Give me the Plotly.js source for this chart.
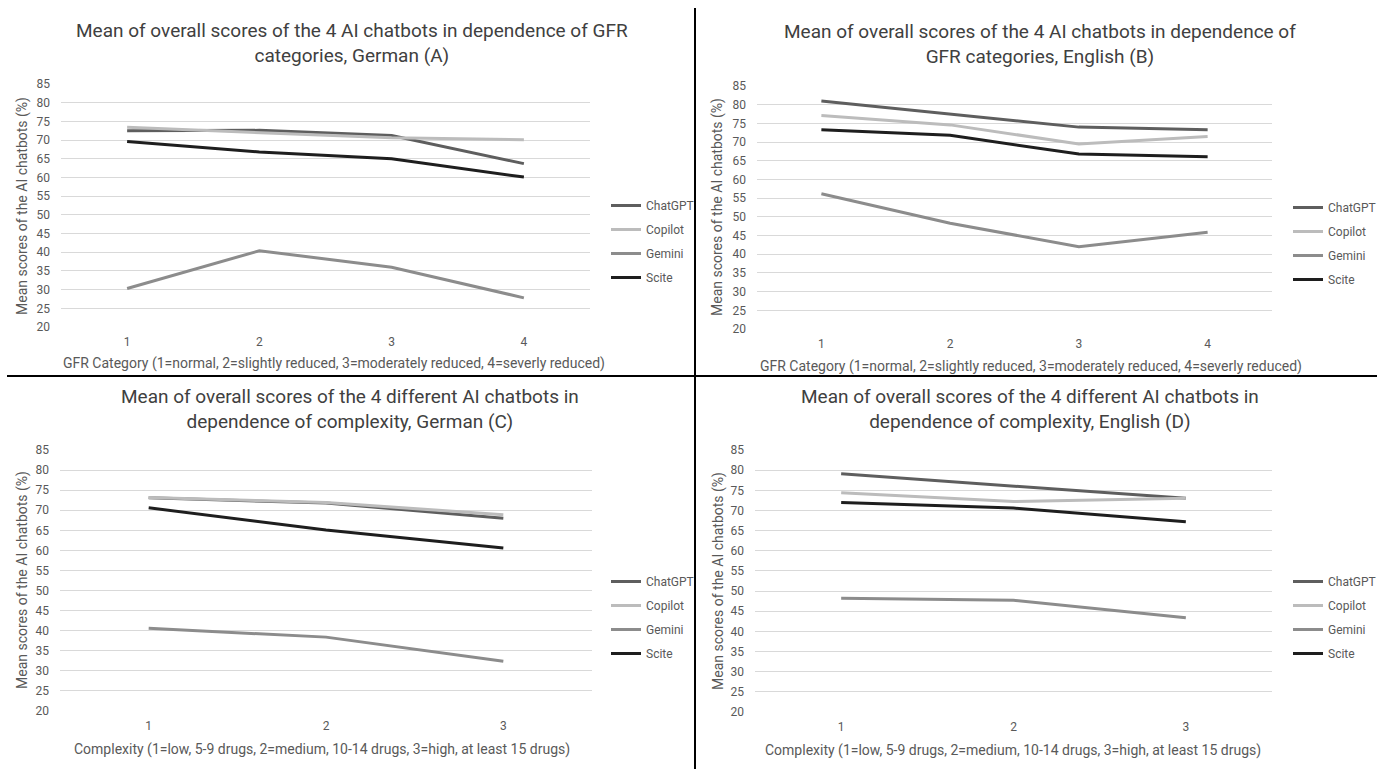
<!DOCTYPE html>
<html>
<head>
<meta charset="utf-8">
<script src="https://cdn.plot.ly/plotly-3.0.1.min.js"></script>
<style>
  html, body { margin: 0; padding: 0; background: #ffffff; }
  #chart { width: 1384px; height: 769px; }
</style>
</head>
<body>
<div id="chart"></div>
<script>
// ---------- Data ----------
const chatbots = ['ChatGPT', 'Copilot', 'Gemini', 'Scite'];
const gfrCategories = [1, 2, 3, 4];
const complexityLevels = [1, 2, 3];
const yTickValues = [20, 25, 30, 35, 40, 45, 50, 55, 60, 65, 70, 75, 80, 85];

// (A) GFR categories, German
const gfrGermanChatGPT = [72.5, 72.6, 71.2, 63.7];
const gfrGermanCopilot = [73.4, 72.1, 70.6, 70.1];
const gfrGermanGemini  = [30.3, 40.4, 36.0, 27.8];
const gfrGermanScite   = [69.6, 66.8, 65.0, 60.1];

// (B) GFR categories, English
const gfrEnglishChatGPT = [81.0, 77.4, 74.0, 73.3];
const gfrEnglishCopilot = [77.1, 74.6, 69.5, 71.5];
const gfrEnglishGemini  = [56.2, 48.3, 42.0, 45.9];
const gfrEnglishScite   = [73.3, 71.8, 66.8, 66.1];

// (C) Complexity, German
const complexityGermanChatGPT = [73.1, 71.8, 68.0];
const complexityGermanCopilot = [73.2, 71.9, 68.9];
const complexityGermanGemini  = [40.6, 38.4, 32.4];
const complexityGermanScite   = [70.6, 65.1, 60.6];

// (D) Complexity, English
const complexityEnglishChatGPT = [79.1, 76.0, 73.0];
const complexityEnglishCopilot = [74.4, 72.2, 73.0];
const complexityEnglishGemini  = [48.2, 47.7, 43.4];
const complexityEnglishScite   = [72.0, 70.6, 67.2];

const panelTitles = [
  'Mean of overall scores of the 4 AI chatbots in dependence of GFR<br>categories, German (A)',
  'Mean of overall scores of the 4 AI chatbots in dependence of<br>GFR categories, English (B)',
  'Mean of overall scores of the 4 different AI chatbots in<br>dependence of complexity, German (C)',
  'Mean of overall scores of the 4 different AI chatbots in<br>dependence of complexity, English (D)'
];
const gfrAxisTitle = 'GFR Category (1=normal, 2=slightly reduced, 3=moderately reduced, 4=severly reduced)';
const complexityAxisTitle = 'Complexity (1=low, 5-9 drugs, 2=medium, 10-14 drugs, 3=high, at least 15 drugs)';
const yAxisTitle = 'Mean scores of the AI chatbots (%)';

// ---------- Styling ----------
const W = 1384, H = 769;
const px = v => v / W;
const py = v => 1 - v / H;
const seriesColors = { ChatGPT: '#5e5e5e', Copilot: '#bcbcbc', Gemini: '#8c8c8c', Scite: '#1e1e1e' };
const FONT = 'Roboto, "Liberation Sans", sans-serif';

const panels = [
  { key: '',  x: gfrCategories,    series: [gfrGermanChatGPT, gfrGermanCopilot, gfrGermanGemini, gfrGermanScite],
    xd: [61, 590],  yd: [84, 327],  legend: 'legend',  legX: 606,  legY: 191 },
  { key: '2', x: gfrCategories,    series: [gfrEnglishChatGPT, gfrEnglishCopilot, gfrEnglishGemini, gfrEnglishScite],
    xd: [757, 1272], yd: [86, 329], legend: 'legend2', legX: 1288, legY: 193 },
  { key: '3', x: complexityLevels, series: [complexityGermanChatGPT, complexityGermanCopilot, complexityGermanGemini, complexityGermanScite],
    xd: [60, 592],  yd: [450, 711], legend: 'legend3', legX: 606,  legY: 567 },
  { key: '4', x: complexityLevels, series: [complexityEnglishChatGPT, complexityEnglishCopilot, complexityEnglishGemini, complexityEnglishScite],
    xd: [755, 1272], yd: [450, 712], legend: 'legend4', legX: 1288, legY: 567 }
];

const traces = [];
const layout = {
  width: W, height: H,
  margin: { l: 0, r: 0, t: 0, b: 0 },
  paper_bgcolor: '#ffffff', plot_bgcolor: '#ffffff',
  font: { family: FONT, color: '#595959', size: 12 },
  showlegend: true,
  annotations: [],
  shapes: [
    { type: 'line', xref: 'paper', yref: 'paper', x0: px(695), x1: px(695), y0: py(8), y1: py(769), line: { color: '#000000', width: 2 } },
    { type: 'line', xref: 'paper', yref: 'paper', x0: px(7), x1: px(1377), y0: py(376), y1: py(376), line: { color: '#000000', width: 2 } }
  ]
};

panels.forEach((p, pi) => {
  const xa = 'xaxis' + p.key, ya = 'yaxis' + p.key;
  const xr = 'x' + p.key, yr = 'y' + p.key;
  chatbots.forEach((name, si) => {
    traces.push({
      type: 'scatter', mode: 'lines', name: name,
      x: p.x, y: p.series[si],
      xaxis: xr, yaxis: yr,
      legend: p.legend, legendgroup: 'g' + pi + '_' + si,
      line: { color: seriesColors[name], width: 3 },
      hoverinfo: 'x+y+name'
    });
  });
  layout[xa] = {
    domain: [px(p.xd[0]), px(p.xd[1])],
    anchor: yr,
    range: [0.5, p.x.length + 0.5],
    tickvals: p.x,
    ticktext: p.x.map(String),
    showgrid: false, zeroline: false, showline: false, ticks: '',
    tickfont: { size: 12, color: '#595959', family: FONT },
    ticklabelstandoff: 6,
    fixedrange: true
  };
  layout[ya] = {
    domain: [py(p.yd[1]), py(p.yd[0])],
    anchor: xr,
    range: [20, 85],
    tickvals: yTickValues,
    showgrid: true, gridcolor: '#d9d9d9', gridwidth: 1,
    zeroline: false, showline: false, ticks: '',
    tickfont: { size: 12, color: '#595959', family: FONT },
    ticklabelstandoff: 10,
    fixedrange: true
  };
  layout[p.legend] = {
    x: px(p.legX), y: py(p.legY), xanchor: 'left', yanchor: 'top',
    bgcolor: 'rgba(0,0,0,0)', borderwidth: 0,
    font: { size: 12, color: '#595959', family: FONT },
    traceorder: 'grouped', tracegroupgap: 5, itemwidth: 30
  };
});

// Panel titles
const titleCenters = [[352, 43], [1040, 44], [350, 409], [1030, 409]];
panelTitles.forEach((t, i) => {
  layout.annotations.push({
    xref: 'paper', yref: 'paper', x: px(titleCenters[i][0]), y: py(titleCenters[i][1]),
    xanchor: 'center', yanchor: 'middle', showarrow: false, align: 'center',
    text: t, font: { size: 19, color: '#404040', family: FONT }
  });
});

// X axis titles
const xTitles = [
  [gfrAxisTitle, 334, 363], [gfrAxisTitle, 1031, 366],
  [complexityAxisTitle, 322, 749], [complexityAxisTitle, 1013, 750]
];
xTitles.forEach(([t, x, y]) => {
  layout.annotations.push({
    xref: 'paper', yref: 'paper', x: px(x), y: py(y), xanchor: 'center', yanchor: 'middle',
    showarrow: false, text: t, font: { size: 14, color: '#595959', family: FONT }
  });
});

// Y axis titles
const yTitles = [[22, 206], [718, 207], [22, 580], [718, 581]];
yTitles.forEach(([x, y]) => {
  layout.annotations.push({
    xref: 'paper', yref: 'paper', x: px(x), y: py(y), xanchor: 'center', yanchor: 'middle',
    showarrow: false, textangle: -90, text: yAxisTitle, font: { size: 14, color: '#595959', family: FONT }
  });
});

Plotly.newPlot('chart', traces, layout, { displayModeBar: false, staticPlot: true });
</script>
</body>
</html>
